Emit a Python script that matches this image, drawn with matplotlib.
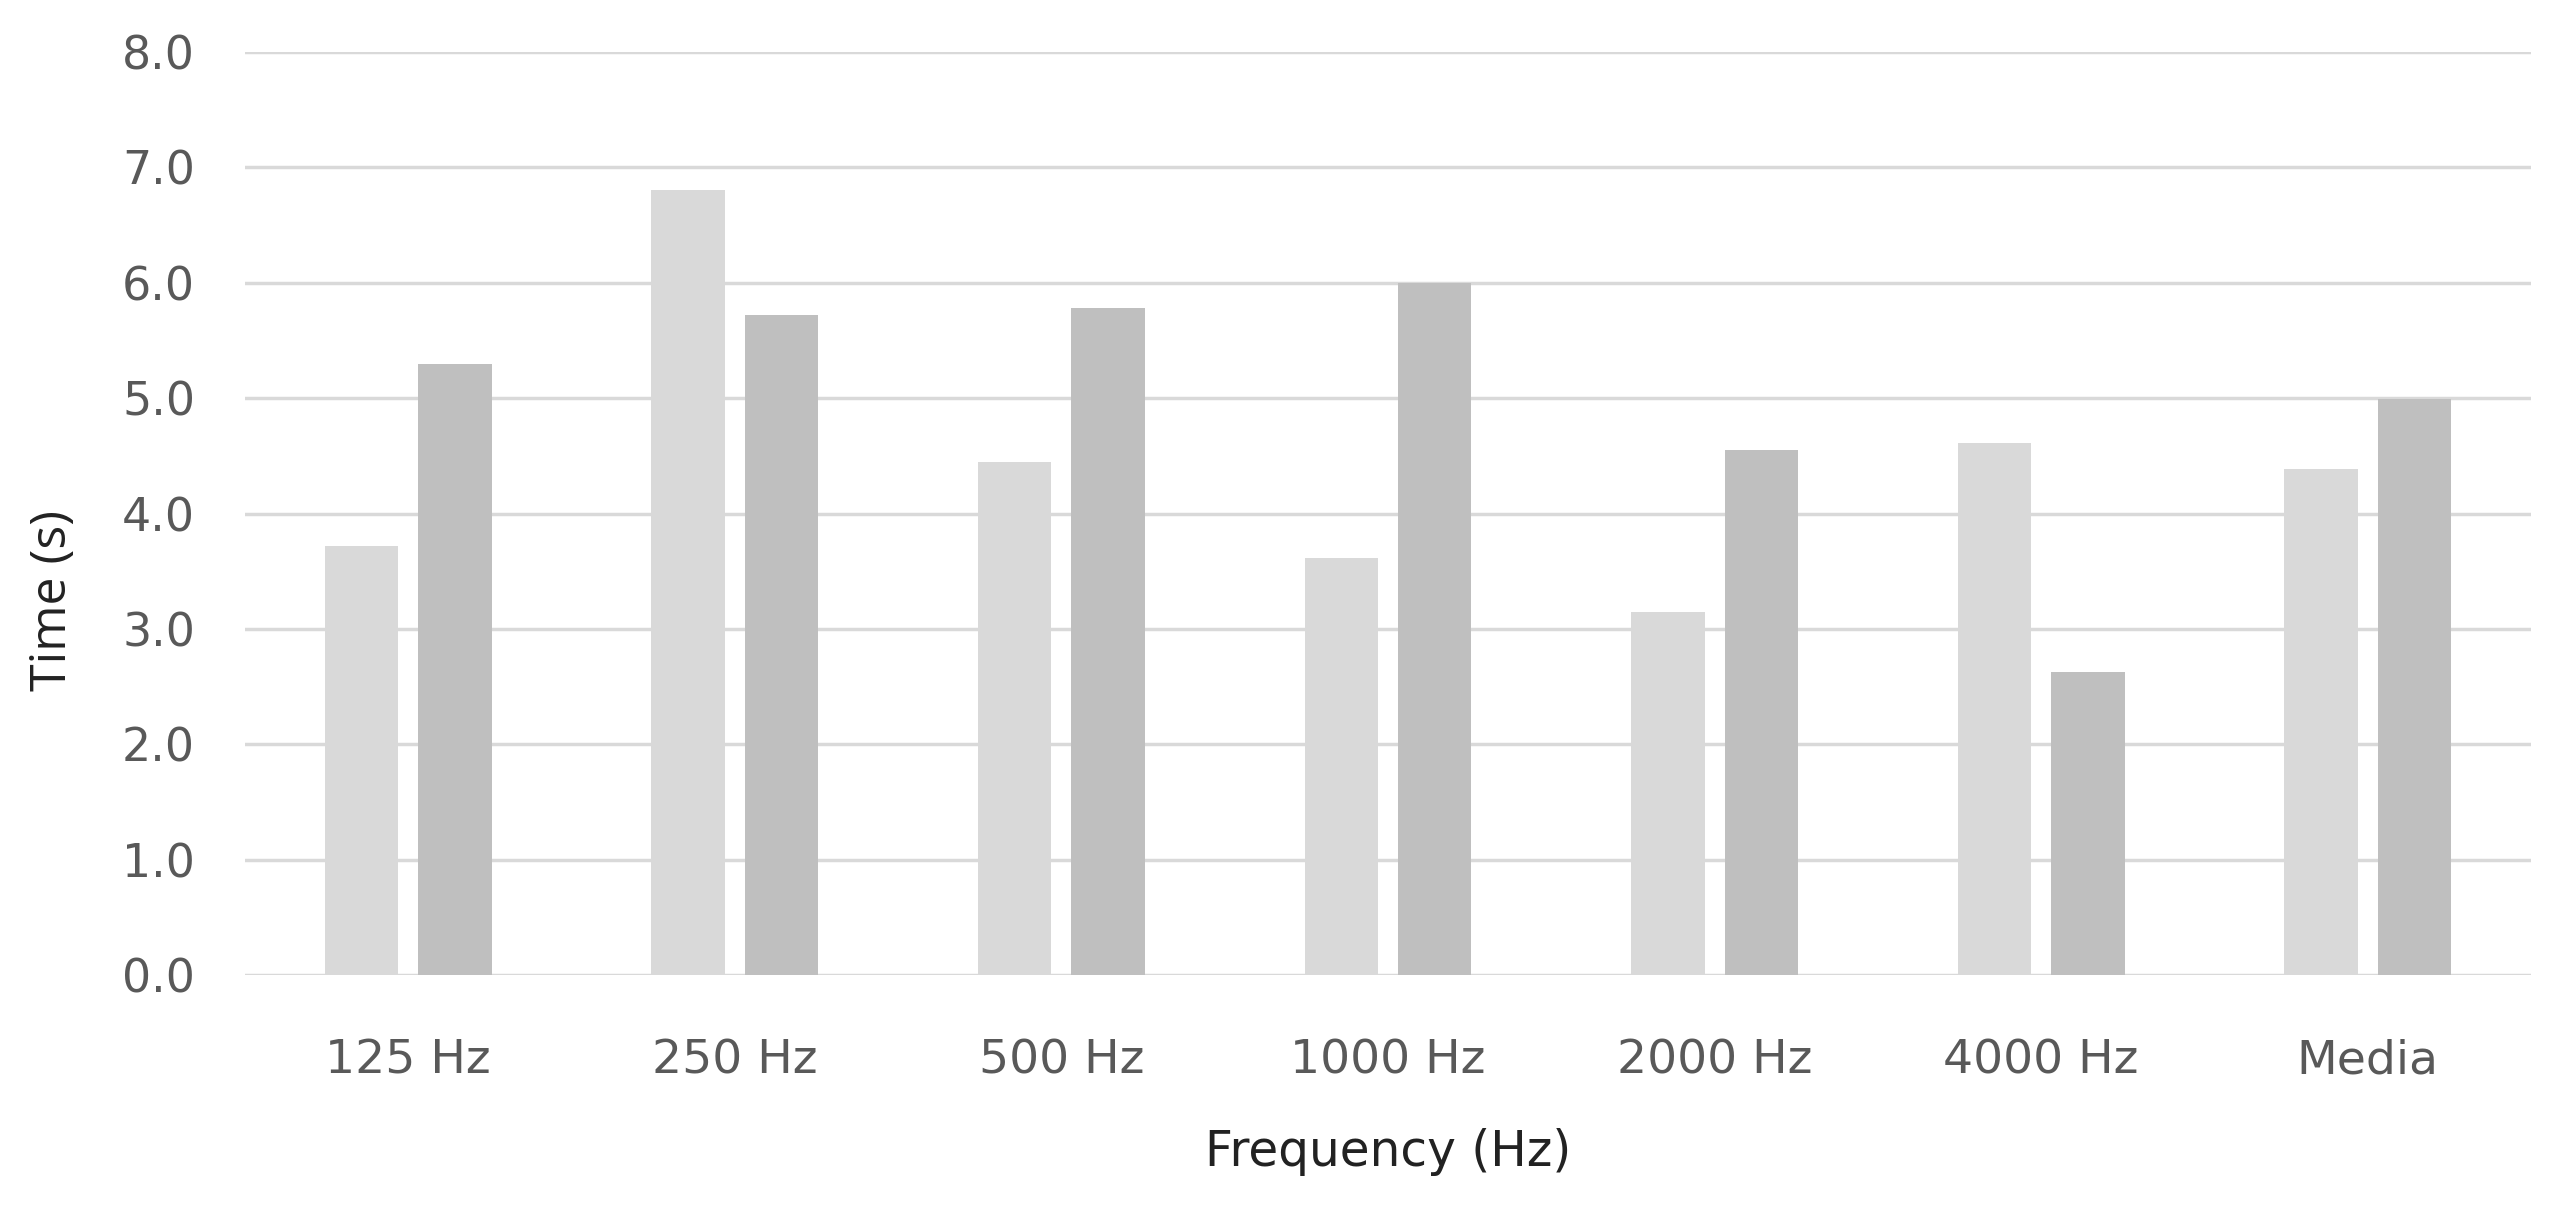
import matplotlib
matplotlib.use("Agg")
import matplotlib.pyplot as plt
import numpy as np

categories = ["125 Hz", "250 Hz", "500 Hz", "1000 Hz", "2000 Hz", "4000 Hz", "Media"]
series_a = [3.72, 6.80, 4.45, 3.61, 3.15, 4.61, 4.39]
series_b = [5.30, 5.72, 5.78, 6.00, 4.55, 2.63, 4.99]
yticks = [0.0, 1.0, 2.0, 3.0, 4.0, 5.0, 6.0, 7.0, 8.0]

plt.rcParams['font.family'] = ['DejaVu Sans']

fig = plt.figure(figsize=(25.64, 12.06), dpi=100)
ax = fig.add_axes([245/2564, 1-975/1206, (2531-245)/2564, (975-52)/1206])

x = np.arange(len(categories))
w = 0.225
off = 0.143
ax.bar(x - off, series_a, width=w, color="#D9D9D9", zorder=3)
ax.bar(x + off, series_b, width=w, color="#BFBFBF", zorder=3)

ax.set_xlim(-0.5, len(categories) - 0.5)
ax.set_ylim(0, 8)
ax.set_yticks(yticks)
ax.set_yticklabels([f"{v:.1f}" for v in yticks])
ax.set_xticks(x)
ax.set_xticklabels(categories)
ax.yaxis.grid(True, color="#D9D9D9", linewidth=2.5, zorder=0)
ax.set_axisbelow(True)
for s in ax.spines.values():
    s.set_visible(False)
ax.tick_params(axis='y', length=0, labelsize=33, labelcolor="#595959", pad=36)
ax.tick_params(axis='x', length=0, labelsize=34, labelcolor="#595959", pad=46)

ax.set_xlabel("Frequency (Hz)", fontsize=35, color="#222222", labelpad=32)
ax.set_ylabel("Time (s)", fontsize=36, color="#222222", family=["Open Sans", "DejaVu Sans"])
ax.yaxis.set_label_coords(-0.073, 0.406)

fig.savefig("out.png", dpi=100, facecolor="white")
